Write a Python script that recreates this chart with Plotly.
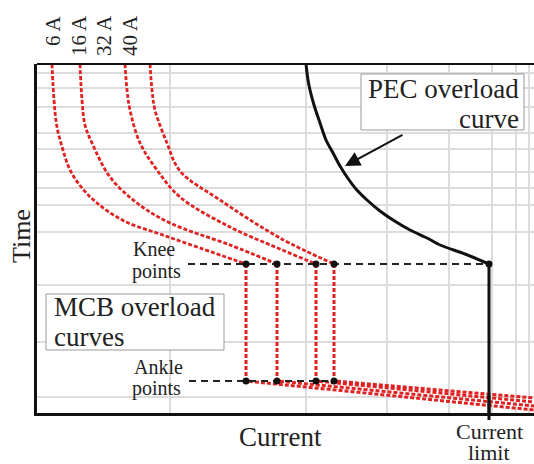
import plotly.graph_objects as go

# ---------------- data (arbitrary units: current on x, time on y) ----------------
grid_x = [26.6, 53.8, 70.0, 82.4, 91.0, 95.8, 98.4]
grid_y = [4.57, 20.29, 36.57, 51.71, 59.43, 64.29, 68.86, 75.43, 80.0, 87.43, 92.86, 97.14]

mcb_ratings = ["6 A", "16 A", "32 A", "40 A"]
mcb_label_x = [3.1, 8.3, 13.3, 18.5]

mcb_6A_x = [3.0, 3.4, 4.0, 5.2, 6.6, 9.0, 12.0, 17.4, 24.6, 32.6, 41.8]
mcb_6A_y = [99.71, 89.43, 81.71, 75.14, 69.43, 64.29, 60.0, 54.86, 51.14, 47.14, 42.57]
mcb_16A_x = [8.6, 9.0, 9.6, 11.0, 14.6, 20.0, 26.6, 38.6, 48.0]
mcb_16A_y = [99.71, 89.43, 82.29, 77.14, 67.43, 60.0, 54.29, 48.0, 42.57]
mcb_32A_x = [17.6, 18.0, 18.6, 20.6, 24.0, 28.6, 38.6, 48.6, 55.8]
mcb_32A_y = [99.71, 92.29, 86.57, 77.14, 69.43, 61.71, 53.14, 46.86, 42.57]
mcb_40A_x = [22.6, 23.0, 23.6, 26.0, 28.6, 36.6, 48.6, 59.4]
mcb_40A_y = [99.71, 92.29, 86.57, 77.14, 69.14, 60.86, 50.0, 42.57]

knee_x = [41.8, 48.0, 55.8, 59.4]
knee_y = 42.57
ankle_y = 9.14
tail_end_x = 99.4
tail_end_y = [0.86, 2.0, 3.14, 4.29]

pec_x = [53.8, 54.2, 54.6, 55.4, 56.6, 57.8, 59.2, 60.6, 62.0, 63.8, 66.0, 68.6, 71.2,
         74.6, 78.0, 80.6, 85.6, 90.4]
pec_y = [99.71, 95.14, 92.29, 88.0, 82.86, 78.0, 74.29, 70.57, 67.43, 64.0, 60.86, 57.71,
         55.14, 52.29, 50.0, 48.0, 45.43, 42.57]
limit_x = 90.4

knee_line_x = [30.2, 90.4]
ankle_line_x = [30.4, 59.6]

X_RANGE = [0, 99.4]
Y_RANGE = [0, 99.714]

RED = "#e02222"
FONT = "Liberation Serif"

fig = go.Figure()

curves = [(mcb_6A_x, mcb_6A_y), (mcb_16A_x, mcb_16A_y),
          (mcb_32A_x, mcb_32A_y), (mcb_40A_x, mcb_40A_y)]
for i, (cx, cy) in enumerate(curves):
    fig.add_trace(go.Scatter(x=cx, y=cy, mode="lines",
                             line=dict(color=RED, width=2.8, dash="4px,2px", shape="spline",
                                       smoothing=1.0),
                             hoverinfo="skip", showlegend=False))
    fig.add_trace(go.Scatter(x=[knee_x[i], knee_x[i], tail_end_x],
                             y=[knee_y, ankle_y, tail_end_y[i]], mode="lines",
                             line=dict(color=RED, width=3, dash="4px,2px"),
                             hoverinfo="skip", showlegend=False))

# knee & ankle dashed guide lines
fig.add_trace(go.Scatter(x=knee_line_x, y=[knee_y, knee_y], mode="lines",
                         line=dict(color="#222", width=2, dash="7px,5px"),
                         hoverinfo="skip", showlegend=False))
fig.add_trace(go.Scatter(x=ankle_line_x, y=[ankle_y, ankle_y], mode="lines",
                         line=dict(color="#222", width=2, dash="7px,5px"),
                         hoverinfo="skip", showlegend=False))

# PEC overload curve
fig.add_trace(go.Scatter(x=pec_x, y=pec_y, mode="lines",
                         line=dict(color="#111", width=3, shape="spline", smoothing=0.8),
                         hoverinfo="skip", showlegend=False))
fig.add_trace(go.Scatter(x=[limit_x, limit_x], y=[knee_y, 0], mode="lines",
                         line=dict(color="#111", width=3),
                         hoverinfo="skip", showlegend=False))

# points
fig.add_trace(go.Scatter(x=knee_x + [limit_x], y=[knee_y] * 5, mode="markers",
                         marker=dict(color="#111", size=7), hoverinfo="skip", showlegend=False))
fig.add_trace(go.Scatter(x=knee_x, y=[ankle_y] * 4, mode="markers",
                         marker=dict(color="#111", size=7), hoverinfo="skip", showlegend=False))

shapes = [
    # top frame line
    dict(type="line", xref="paper", yref="paper", x0=0, x1=1, y0=1, y1=1,
         line=dict(color="#111", width=2)),
    # current limit extending below axis
    dict(type="line", xref="x", yref="paper", x0=limit_x, x1=limit_x, y0=-0.02, y1=0.05,
         line=dict(color="#111", width=3)),
    # text boxes
    dict(type="rect", xref="x", yref="y", x0=1.8, x1=37.4, y0=18.0, y1=34.0,
         fillcolor="white", line=dict(color="#999", width=1), layer="above"),
    dict(type="rect", xref="x", yref="y", x0=64.8, x1=97.4, y0=80.86, y1=96.86,
         fillcolor="white", line=dict(color="#999", width=1), layer="above"),
]

ann = []
def txt(text, x, y, size, xref="x", yref="y", xanchor="center", yanchor="middle",
        angle=0, yshift=0):
    ann.append(dict(text=text, x=x, y=y, xref=xref, yref=yref, xanchor=xanchor,
                    yanchor=yanchor, textangle=angle, showarrow=False, yshift=yshift,
                    font=dict(family=FONT, size=size, color="#222")))

for lab, lx in zip(mcb_ratings, mcb_label_x):
    txt(lab, lx, 1, 21, yref="paper", yanchor="top", angle=-90, yshift=51)

txt("Knee", 18.8, 46.86, 20, xanchor="left")
txt("points", 18.6, 40.57, 20, xanchor="left")
txt("Ankle", 19.0, 13.14, 20, xanchor="left")
txt("points", 18.6, 6.86, 20, xanchor="left")
txt("MCB overload", 3.0, 30.29, 27, xanchor="left")
txt("curves", 3.0, 21.71, 27, xanchor="left")
txt("PEC overload", 96.8, 92.57, 27, xanchor="right")
txt("curve", 96.8, 84.0, 27, xanchor="right")
txt("Current", 48.6, -0.0688, 27, yref="paper")
txt("Current", limit_x, -0.0544, 22, yref="paper")
txt("limit", limit_x, -0.1146, 22, yref="paper")
txt("Time", -0.0322, 0.507, 26, xref="paper", yref="paper", angle=-90)

# arrow to PEC curve
ann.append(dict(x=61.6, y=70.57, ax=73.4, ay=79.71, xref="x", yref="y", axref="x", ayref="y",
                text="", showarrow=True, arrowhead=2, arrowsize=1.5, arrowwidth=2,
                arrowcolor="#111", standoff=0, startstandoff=0))

fig.update_layout(
    width=534, height=464,
    margin=dict(l=37, r=0, t=64, b=51),
    paper_bgcolor="white", plot_bgcolor="white",
    shapes=shapes, annotations=ann,
    xaxis=dict(range=X_RANGE, tickvals=grid_x, showticklabels=False, ticks="",
               showgrid=True, gridcolor="#dcdcdc", gridwidth=2, zeroline=False,
               showline=True, linecolor="#111", linewidth=2.5, fixedrange=True),
    yaxis=dict(range=Y_RANGE, tickvals=grid_y, showticklabels=False, ticks="",
               showgrid=True, gridcolor="#dcdcdc", gridwidth=2, zeroline=False,
               showline=True, linecolor="#111", linewidth=2.5, fixedrange=True),
)

fig.write_html("out.html")
